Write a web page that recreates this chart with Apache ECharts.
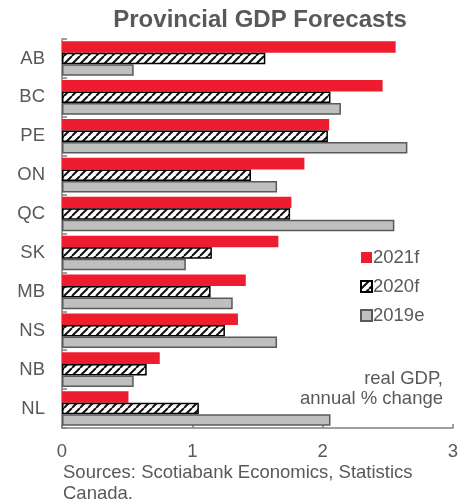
<!DOCTYPE html>
<html>
<head>
<meta charset="utf-8">
<script src="https://cdn.jsdelivr.net/npm/echarts@6/dist/echarts.min.js"></script>
<style>
  html, body { margin: 0; padding: 0; background: #fff; }
  #chart { width: 473px; height: 504px; }
</style>
</head>
<body>
<div id="chart"></div>
<script>
const provinces = ["AB", "BC", "PE", "ON", "QC", "SK", "MB", "NS", "NB", "NL"];
const f2021 = [2.56, 2.46, 2.05, 1.86, 1.76, 1.66, 1.41, 1.35, 0.75, 0.51];
const f2020 = [1.56, 2.06, 2.04, 1.45, 1.75, 1.15, 1.14, 1.25, 0.65, 1.05];
const e2019 = [0.55, 2.14, 2.65, 1.65, 2.55, 0.95, 1.31, 1.65, 0.55, 2.06];
const xTicks = [0, 1, 2, 3];

// diagonal hatch for 2020f
function hatch() {
  const c = document.createElement("canvas");
  c.width = 8; c.height = 8;
  const ctx = c.getContext("2d");
  ctx.fillStyle = "#fff";
  ctx.fillRect(0, 0, 8, 8);
  ctx.strokeStyle = "#111";
  ctx.lineWidth = 2;
  ctx.beginPath();
  for (let k = -8; k <= 16; k += 8) {
    ctx.moveTo(k, 8);
    ctx.lineTo(k + 8, 0);
  }
  ctx.stroke();
  return c;
}

const txt = "#595959";
const font = "Liberation Sans";
const fs = 18.5;
const chart = echarts.init(document.getElementById("chart"));

chart.setOption({
  animation: false,
  textStyle: { fontFamily: font },
  title: {
    text: "Provincial GDP Forecasts",
    left: 255, top: 3, textAlign: "center",
    textStyle: { color: txt, fontSize: 24, fontWeight: "bold", fontFamily: font }
  },
  grid: { left: 62, right: 20, top: 39, bottom: 76, containLabel: false },
  legend: {
    orient: "vertical",
    left: 355, top: 243,
    icon: "rect",
    itemWidth: 11, itemHeight: 11, itemGap: 10,
    textStyle: { color: txt, fontSize: fs, fontFamily: font, padding: [0, 0, 0, -4] },
    data: ["2021f", "2020f", "2019e"]
  },
  xAxis: {
    type: "value",
    min: 0, max: 3, interval: 1,
    axisLine: { show: true, lineStyle: { color: "#808080", width: 1.5 } },
    axisTick: { show: true, inside: true, length: 4, lineStyle: { color: "#808080", width: 1.5 } },
    axisLabel: {
      color: txt, fontSize: fs, margin: 14,
      formatter: v => xTicks.includes(v) ? String(v) : ""
    },
    splitLine: { show: false }
  },
  yAxis: {
    type: "category",
    inverse: true,
    data: provinces,
    axisLine: { show: true, lineStyle: { color: "#808080", width: 1.5 } },
    axisTick: { show: true, inside: true, length: 5, lineStyle: { color: "#808080", width: 1.5 } },
    axisLabel: { color: txt, fontSize: fs, margin: 17 }
  },
  graphic: [
    { type: "text", right: 30, top: 369,
      style: { text: "real GDP,", fill: txt, font: fs + "px " + font } },
    { type: "text", right: 30, top: 389,
      style: { text: "annual % change", fill: txt, font: fs + "px " + font } },
    { type: "text", left: 63, top: 462,
      style: { text: "Sources: Scotiabank Economics, Statistics\nCanada.", fill: txt, font: fs + "px " + font, lineHeight: 21.5 } }
  ],
  series: [
    {
      name: "2021f", type: "bar", data: f2021,
      barGap: "0%", barCategoryGap: "11%",
      itemStyle: { color: "#ED1C2E" }
    },
    {
      name: "2020f", type: "bar", data: f2020,
      itemStyle: { color: { image: hatch(), repeat: "repeat" }, borderColor: "#000", borderWidth: 1.5 }
    },
    {
      name: "2019e", type: "bar", data: e2019,
      itemStyle: { color: "#BFBFBF", borderColor: "#595959", borderWidth: 1.5 }
    }
  ]
});
</script>
</body>
</html>
